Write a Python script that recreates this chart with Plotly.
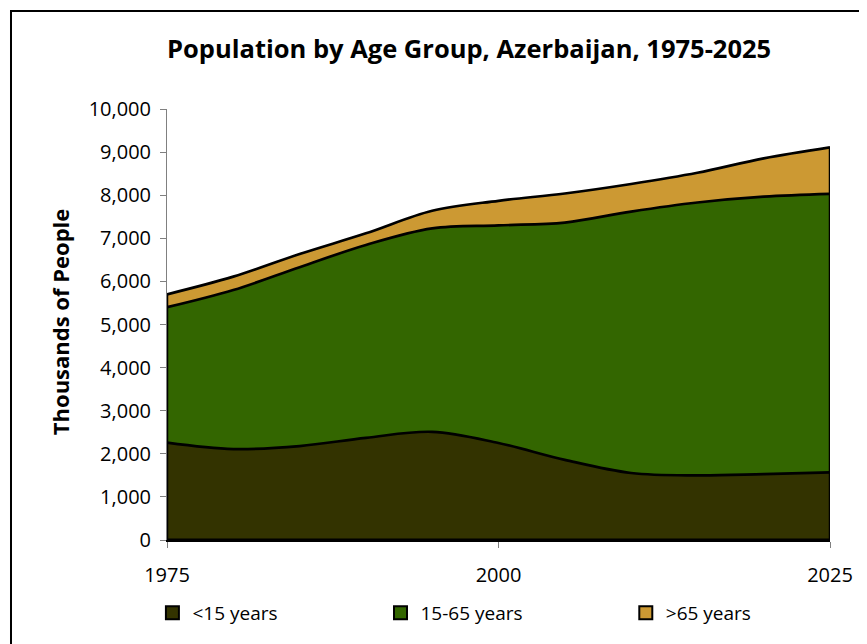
import plotly.graph_objects as go

years = [1975, 1980, 1985, 1990, 1995, 2000, 2005, 2010, 2015, 2020, 2025]
under15 = [2260, 2110, 2180, 2370, 2510, 2250, 1860, 1555, 1500, 1530, 1570]
age15_65 = [3140, 3690, 4150, 4475, 4720, 5050, 5505, 6065, 6330, 6435, 6460]
over65 = [300, 310, 305, 270, 410, 570, 675, 640, 690, 890, 1080]

names = ["<15 years", "15-65 years", ">65 years"]
colors = ["#333300", "#336600", "#CC9933"]
series = [under15, age15_65, over65]
legend_ids = ["legend", "legend2", "legend3"]
legend_x = [-0.022, 0.322, 0.692]

FONT = "Open Sans"

fig = go.Figure()
for name, col, vals in zip(names, colors, series):
    fig.add_trace(go.Scatter(
        x=years, y=vals, name=name, stackgroup="one", mode="lines",
        line=dict(color="black", width=2.7, shape="spline", smoothing=1.0),
        fillcolor=col, showlegend=False, hoverinfo="skip"))

for name, col, lid in zip(names, colors, legend_ids):
    fig.add_trace(go.Scatter(
        x=[None], y=[None], name=name, mode="markers", legend=lid,
        marker=dict(symbol="square", size=13, color=col,
                    line=dict(color="black", width=2))))

totals = [a + b + c for a, b, c in zip(under15, age15_65, over65)]
shapes = [
    dict(type="line", xref="x", yref="y", x0=years[0], x1=years[0], y0=0, y1=totals[0],
         line=dict(color="black", width=2.5), layer="above"),
    dict(type="line", xref="x", yref="y", x0=years[-1], x1=years[-1], y0=0, y1=totals[-1],
         line=dict(color="black", width=2.5), layer="above"),
    dict(type="line", xref="x", yref="y", x0=years[0], x1=years[-1], y0=0, y1=0,
         line=dict(color="black", width=2.8), layer="above"),
    dict(type="rect", xref="paper", yref="paper", x0=-0.2353, x1=1.08, y0=-0.3, y1=1.2274,
         line=dict(color="black", width=2), fillcolor="rgba(0,0,0,0)", layer="below"),
]

legend_common = dict(orientation="h", y=-0.169, xanchor="left", yanchor="middle",
                     itemwidth=30, font=dict(family=FONT, size=19),
                     bgcolor="rgba(0,0,0,0)")

fig.update_layout(
    width=867, height=644,
    margin=dict(l=159, r=45, t=101, b=112),
    paper_bgcolor="white", plot_bgcolor="white",
    font=dict(family=FONT, size=19, color="black"),
    shapes=shapes,
    annotations=[
        dict(text="<b>Population by Age Group, Azerbaijan, 1975-2025</b>",
             xref="paper", yref="paper", x=0.4555, y=1.142,
             xanchor="center", yanchor="middle", showarrow=False,
             font=dict(family=FONT, size=25.5, color="black")),
        dict(text="<b>Thousands of People</b>", textangle=-90,
             xref="paper", yref="paper", x=-0.161, y=0.506,
             xanchor="center", yanchor="middle", showarrow=False,
             font=dict(family=FONT, size=22, color="black")),
    ],
    xaxis=dict(range=[1975, 2025], tickvals=[1975, 2000, 2025],
               ticks="outside", ticklen=6, tickcolor="#808080",
               showline=True, linecolor="black", linewidth=2,
               showgrid=False, zeroline=False, ticklabelstandoff=10,
               tickfont=dict(family=FONT, size=20)),
    yaxis=dict(range=[0, 10000], dtick=1000, tickformat=",",
               ticks="outside", ticklen=6, tickcolor="#808080",
               showline=True, linecolor="#808080", linewidth=1,
               showgrid=False, zeroline=False, ticklabelstandoff=5,
               tickfont=dict(family=FONT, size=20)),
    legend=dict(x=legend_x[0], **legend_common),
    legend2=dict(x=legend_x[1], **legend_common),
    legend3=dict(x=legend_x[2], **legend_common),
)

fig.write_html("out.html")
